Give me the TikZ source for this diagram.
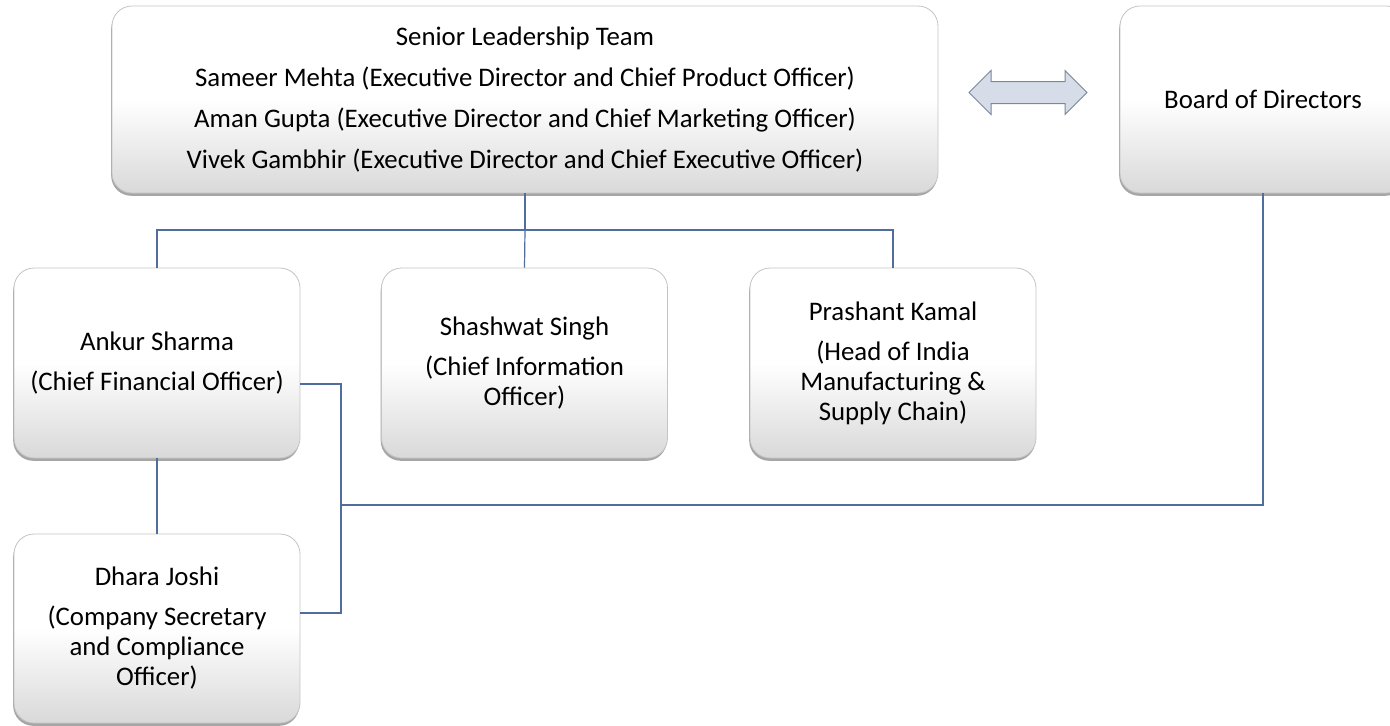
\documentclass[tikz,border=0pt]{standalone}
\usepackage{fontspec}
\setmainfont{Carlito}
\usepackage{tikz}
\usetikzlibrary{positioning, shadows, shapes.arrows}
\definecolor{linkblue}{HTML}{4F6E9E}
\definecolor{boxline}{HTML}{C4C4C4}
\definecolor{arrowfill}{HTML}{D6DDE9}
\definecolor{arrowline}{HTML}{7A879C}
\tikzset{
	orgbox/.style={draw=boxline, line width=0.4pt, rounded corners=10pt,
			top color=white, bottom color=black!15, middle color=white,
			drop shadow={shadow xshift=-0.4pt, shadow yshift=-1.4pt, opacity=0.35, fill=black},
			align=center, inner sep=0pt,
			font=\fontsize{13.4}{15}\selectfont}
}
\tikzset{
	link/.style={draw=linkblue, line width=0.6pt}
}
\tikzset{
	dblarrow/.style={double arrow, draw=arrowline, fill=arrowfill, line width=0.5pt,
			inner xsep=0pt, inner ysep=5.25pt, text height=0pt, text depth=0pt,
			minimum height=59pt, double arrow head extend=5.5pt, double arrow tip angle=90}
}

\begin{document}
\begin{tikzpicture}[x=0.5pt, y=-0.5pt]

	\useasboundingbox (0,0) rectangle (1390,725);

	\begin{scope}
		\node[orgbox, minimum width=413pt, minimum height=93.5pt] (slt) at (525,99.5)
		{Senior Leadership Team\\[5.5pt]
			Sameer Mehta (Executive Director and Chief Product Officer)\\[5.5pt]
			Aman Gupta (Executive Director and Chief Marketing Officer)\\[5.5pt]
			Vivek Gambhir (Executive Director and Chief Executive Officer)};
		\node[orgbox, minimum width=143pt, minimum height=93.5pt] (board) at (1263,99.5)
		{Board of Directors};
		\node[dblarrow] (tie) at (1028,92.5) {};
	\end{scope}

	\begin{scope}
		\node[orgbox, minimum width=143pt, minimum height=95pt] (ankur) at (157,363)
		{Ankur Sharma\\[5pt](Chief Financial Officer)};
		\node[orgbox, minimum width=143pt, minimum height=95pt] (shashwat) at (524.5,363)
		{Shashwat Singh\\[5pt](Chief Information\\Officer)};
		\node[orgbox, minimum width=143pt, minimum height=95pt] (prashant) at (893,363)
		{Prashant Kamal\\[5pt](Head of India\\Manufacturing \&\\Supply Chain)};
		\node[orgbox, minimum width=143pt, minimum height=94.5pt] (dhara) at (157,628.5)
		{Dhara Joshi\\[5pt](Company Secretary\\and Compliance\\Officer)};
	\end{scope}

	\coordinate (bar) at (525,230);
	\coordinate (split) at (341,505);

	\draw[link] (slt.south) -- (slt.south |- bar) -| (ankur.north);
	\draw[link] (slt.south |- bar) -- (shashwat.north);
	\draw[link] (slt.south |- bar) -| (prashant.north);
	\draw[link] (ankur.south) -- (dhara.north);
	\draw[link] ([yshift=-10.5pt]ankur.east) -| (split) |- ([yshift=7.75pt]dhara.east);
	\draw[link] (split) -| (board.south);

\end{tikzpicture}
\end{document}
